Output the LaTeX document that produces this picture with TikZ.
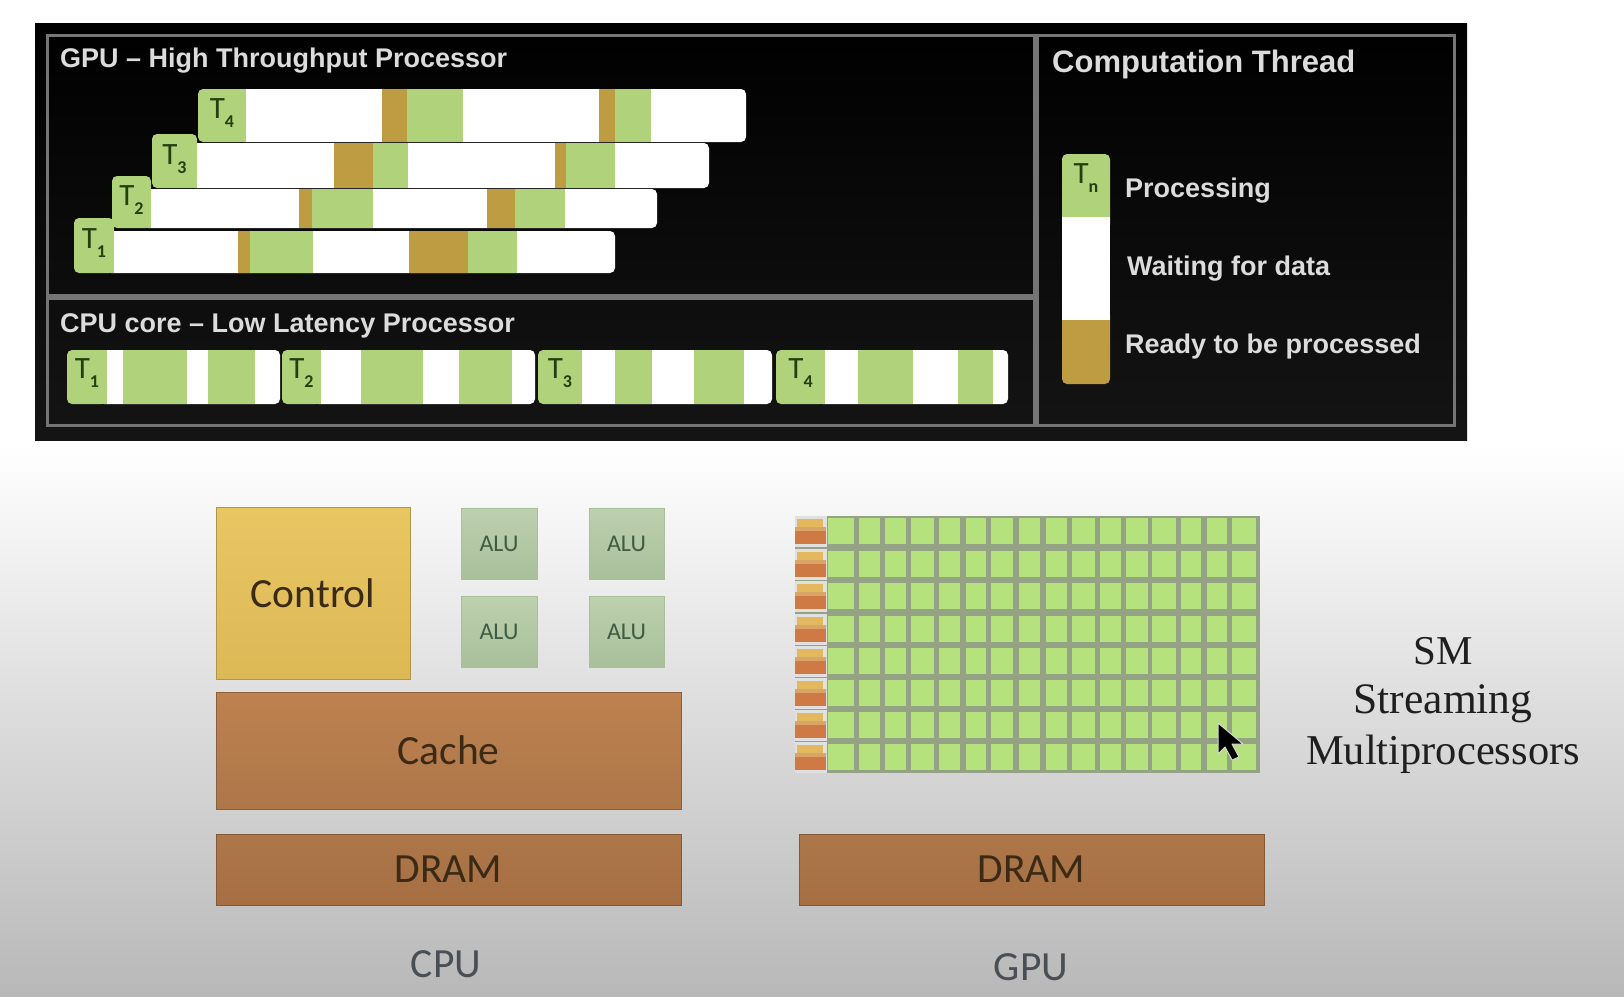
\documentclass[tikz,border=0pt]{standalone}
\usepackage{fontspec}
\newfontfamily\lib{Liberation Sans}
\newfontfamily\crl{Carlito}
\newfontfamily\srf{Liberation Serif}
\definecolor{gr}{HTML}{AFD27A}
\definecolor{go}{HTML}{BE9C42}
\definecolor{wh}{HTML}{FFFFFF}
\definecolor{fr}{HTML}{757575}
\definecolor{tl}{HTML}{DCDCDC}
\definecolor{tg}{HTML}{24400F}
\definecolor{cellg}{HTML}{B6E27E}
\definecolor{gridg}{HTML}{93A383}
\definecolor{ctlT}{HTML}{E8C662}
\definecolor{ctlB}{HTML}{DDB956}
\definecolor{cacT}{HTML}{BE814F}
\definecolor{cacB}{HTML}{AD774A}
\definecolor{drT}{HTML}{AE774A}
\definecolor{drB}{HTML}{A66F43}
\definecolor{aluT}{HTML}{BDD0AF}
\definecolor{aluB}{HTML}{A9BF9A}
\definecolor{darktxt}{HTML}{3A2A16}
\definecolor{alutxt}{HTML}{3F5C42}
\definecolor{capt}{HTML}{4A4F55}
\definecolor{smor}{HTML}{CF7A45}
\definecolor{smye}{HTML}{E3B85E}
\definecolor{smmi}{HTML}{D9A468}
\definecolor{bgbot}{HTML}{B8B8B8}
\newcommand\fs[1]{\fontsize{#1}{#1}\selectfont}
\newcommand\Tlab[1]{T\raisebox{-0.28em}{\fs{18}\bfseries #1}}
% #1 name #2 y1 #3 y2 #4 T start #5 T end #6 body end #7 sub #8 segments end/colour #9 label y
\newcommand\thread[9]{%
  \fill[wh,rounded corners=5pt] (#5-8,#2) rectangle (#6,#3);
  \fill[gr,rounded corners=5pt] (#4,#2) rectangle (#5,#3);
  \fill[gr] (#5-8,#2) rectangle (#5,#3);
  \xdef\prevx{#5}%
  \foreach \e/\c in {#8}{\fill[\c] (\prevx,#2) rectangle (\e,#3);\xdef\prevx{\e}}%
  \node[tlabel] (#1) at ({(#4+#5)/2},#9) {\Tlab{#7}};
}
% #1 name #2 x1 #3 y1 #4 x2 #5 y2 #6 style #7 text
\newcommand\chip[7]{%
  \pgfmathsetmacro\chipw{#4-#2}\pgfmathsetmacro\chiph{#5-#3}%
  \node[chipbox,#6,minimum width=\chipw pt,minimum height=\chiph pt] (#1) at ({(#2+#4)/2},{(#3+#5)/2}) {\raisebox{-1.5pt}{#7}};
}
\tikzset{
  x=1pt,y=-1pt,
  tlabel/.style={inner sep=0pt,text=tg,font=\crl\fs{31}},
  panel/.style={draw=fr,line width=3pt},
  hdtext/.style={anchor=west,inner sep=0pt,text=tl,font=\lib\bfseries\fs{27}},
  chipbox/.style={inner sep=0pt,line width=1pt,text=darktxt,font=\crl\fs{41.5}},
  ctlbox/.style={draw=ctlB!80!black,top color=ctlT,bottom color=ctlB},
  cachebox/.style={draw=cacB!80!black,top color=cacT,bottom color=cacB},
  drambox/.style={draw=drB!80!black,top color=drT,bottom color=drB},
  alubox/.style={draw=aluB,top color=aluT,bottom color=aluB,text=alutxt,font=\crl\fs{24}},
  caption/.style={inner sep=0pt,text=capt,font=\crl\fs{41.5}},
  smtext/.style={inner sep=0pt,text=black!88,font=\srf\fs{41}}
}
\begin{document}
\begin{tikzpicture}
\useasboundingbox (0,0) rectangle (1624,996);
% slide background
\fill[white] (0,0) rectangle (1624,446);
\shade[top color=white,bottom color=bgbot] (0,445) rectangle (1624,996);
% black board
\shade[top color=black,bottom color=black!92] (35,23) rectangle (1467,440);
\draw[panel] (47,35) rectangle (1034,295);
\draw[panel] (47,298) rectangle (1034,425);
\draw[panel] (1037,35) rectangle (1454,425);
\node[hdtext] (gputitle) at (60,61) {GPU – High Throughput Processor};
\node[hdtext] (cputitle) at (60,326) {CPU core – Low Latency Processor};
\node[hdtext,font=\lib\bfseries\fs{31}] (legtitle) at (1052,64) {Computation Thread};
% GPU threads
\fill[gr,rounded corners=5pt] (74,218) rectangle (114,240);
\thread{t1}{231}{273}{74}{114}{615}{1}{238/wh,250/go,313/gr,409/wh,468/go,517/gr}{243}
\fill[gr,rounded corners=5pt] (112,176) rectangle (151,200);
\thread{t2}{189}{228}{112}{151}{657}{2}{299/wh,312/go,373/gr,487/wh,515/go,565/gr}{200}
\fill[gr,rounded corners=5pt] (152,134) rectangle (197,155);
\thread{t3}{143}{188}{152}{197}{709}{3}{334/wh,373/go,408/gr,555/wh,566/go,615/gr}{159}
\thread{t4}{89}{142}{198}{246}{746}{4}{382/wh,407/go,463/gr,599/wh,615/go,651/gr}{113}
% CPU threads
\thread{c1}{350}{404}{67}{107}{280}{1}{123/wh,187/gr,208/wh,255/gr}{373}
\thread{c2}{350}{404}{282}{321}{535}{2}{361/wh,423/gr,459/wh,512/gr}{373}
\thread{c3}{350}{404}{538}{582}{772}{3}{615/wh,652/gr,694/wh,744/gr}{373}
\thread{c4}{350}{404}{776}{825}{1008}{4}{858/wh,913/gr,958/wh,993/gr}{373}
% legend
\fill[gr,rounded corners=5pt] (1062,154) rectangle (1110,230);
\fill[go,rounded corners=5pt] (1062,310) rectangle (1110,384);
\fill[wh] (1062,217) rectangle (1110,320);
\node[tlabel] (tn) at (1086,178) {\Tlab{n}};
\node[hdtext] (lp) at (1125,191) {Processing};
\node[hdtext] (lw) at (1127,269) {Waiting for data};
\node[hdtext] (lr) at (1125,347) {Ready to be processed};
% CPU block
\chip{control}{216}{507}{410}{679}{ctlbox}{Control}
\chip{alua}{461}{508}{537}{579}{alubox}{ALU}
\chip{alub}{589}{508}{664}{579}{alubox}{ALU}
\chip{aluc}{461}{596}{537}{667}{alubox}{ALU}
\chip{alud}{589}{596}{664}{667}{alubox}{ALU}
\chip{cache}{216}{692}{681}{809}{cachebox}{Cache}
\chip{dramc}{216}{834}{681}{905}{drambox}{DRAM}
\node[caption] (cpucap) at (446,964) {CPU};
% GPU block
\fill[gridg] (795,516) rectangle (1260,773);
\foreach \ya/\yb in {518/544,551/577,583/609,616/642,648/674,680/706,712/738,744/770}{
  \fill[white!88!black] (795,{\ya-2}) rectangle (827,{\yb+3});
  \fill[smor] (795,{\yb-13}) rectangle (826,\yb);
  \fill[smmi] (795,{\ya+9}) rectangle (826,{\yb-13});
  \fill[smye] (797,{\ya+1}) rectangle (823,{\ya+9});
  \foreach \xa/\xb in {828/854,859/880,885/906,911/934,939/960,966/986,991/1013,1019/1040,1046/1067,1072/1095,1100/1121,1126/1148,1152/1176,1181/1201,1207/1227,1232/1256}
    \fill[cellg] (\xa,\ya) rectangle (\xb,\yb);
}
\node[smtext] (sm1) at (1443,651) {SM};
\node[smtext,font=\srf\fs{43.5}] (sm2) at (1443,704) {Streaming};
\node[smtext,font=\srf\fs{42.5}] (sm3) at (1443,754) {Multiprocessors};
\chip{dramg}{799}{834}{1264}{905}{drambox}{DRAM}
\node[caption] (gpucap) at (1031,967) {GPU};
% cursor
\draw[fill=black,draw=white!85!black,line width=1pt,line join=round]
  (1218,723) -- (1218,754) -- (1225,747) -- (1232,760) -- (1239,757) -- (1232,744) -- (1243,744) -- cycle;
\end{tikzpicture}
\end{document}
